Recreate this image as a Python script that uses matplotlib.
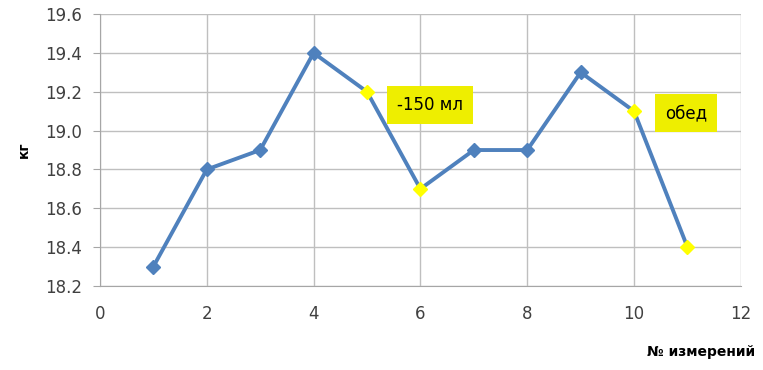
import numpy as np
import matplotlib.pyplot as plt

# номера измерений и вес
izmereniya = [1, 2, 3, 4, 5, 6, 7, 8, 9, 10, 11]
ves = [18.3, 18.8, 18.9, 19.4, 19.2, 18.7, 18.9, 18.9, 19.3, 19.1, 18.4]
# точки, отмеченные жёлтым
zheltye = [5, 6, 10, 11]

fig = plt.figure(figsize=(7.63, 3.7), dpi=100)
ax = fig.add_axes([0.131, 0.227, 0.84, 0.735])

ax.plot(izmereniya, ves, color='#4F81BD', linewidth=2.8, zorder=3)
for x, y in zip(izmereniya, ves):
    c = '#FFFF00' if x in zheltye else '#4F81BD'
    ax.plot(x, y, marker='D', markersize=7, color=c, markeredgecolor=c, zorder=4)

ax.set_xlim(0, 12)
ax.set_ylim(18.2, 19.6)
ax.set_xticks(np.arange(0, 13, 2))
ax.set_yticks(np.arange(18.2, 19.61, 0.2))
ax.set_yticklabels([f'{v:.1f}' for v in np.arange(18.2, 19.61, 0.2)])
ax.grid(color='#BFBFBF', linewidth=1)
ax.set_axisbelow(True)
for s in ['top', 'right']:
    ax.spines[s].set_visible(False)
for s in ['left', 'bottom']:
    ax.spines[s].set_color('#A6A6A6')
ax.tick_params(axis='y', length=5, color='#A6A6A6', labelsize=12, labelcolor='#404040', pad=8)
ax.tick_params(axis='x', length=0, labelsize=12, labelcolor='#404040', pad=14)

ax.set_ylabel('кг', fontsize=10, fontweight='bold', labelpad=10)
fig.text(0.99, 0.03, '№ измерений', ha='right', va='bottom', fontsize=10, fontweight='bold')

ax.text(5.56, 19.13, '-150 мл', fontsize=12, va='center',
        bbox=dict(boxstyle='square,pad=0.6', fc='#EEEE00', ec='none'))
ax.text(10.58, 19.09, 'обед', fontsize=12, va='center',
        bbox=dict(boxstyle='square,pad=0.6', fc='#EEEE00', ec='none'))

plt.savefig('out.png')
plt.close()
